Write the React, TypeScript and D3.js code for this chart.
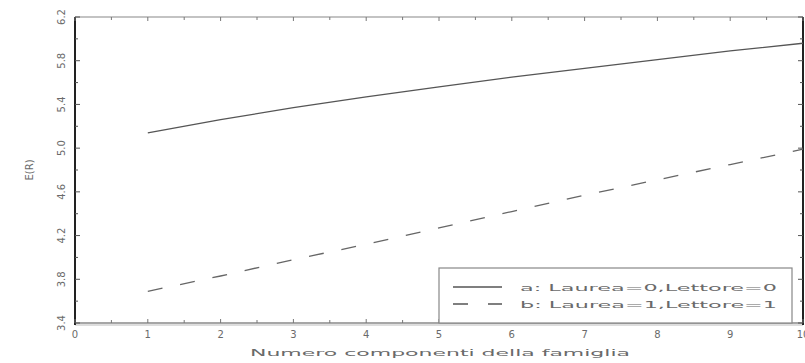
import React from "react";
import * as d3 from "d3";

const xValues = [1, 2, 3, 4, 5, 6, 7, 8, 9, 10];
const seriesA = [5.14, 5.26, 5.37, 5.47, 5.56, 5.65, 5.73, 5.81, 5.89, 5.96];
const seriesB = [3.69, 3.83, 3.98, 4.12, 4.27, 4.42, 4.57, 4.71, 4.85, 4.99];
const xTicks = [0, 1, 2, 3, 4, 5, 6, 7, 8, 9, 10];
const yTicks = [3.4, 3.8, 4.2, 4.6, 5.0, 5.4, 5.8, 6.2];
const legendLabels = ["a: Laurea=0,Lettore=0", "b: Laurea=1,Lettore=1"];

const width = 805;
const height = 363;
const margin = { left: 75, right: 2, top: 17, bottom: 40 };
const font = "'DejaVu Sans', sans-serif";
const textColor = "#6a6a6a";

export default function App() {
  const x = d3
    .scaleLinear()
    .domain([0, 10])
    .range([margin.left, width - margin.right]);
  const y = d3
    .scaleLinear()
    .domain([3.4, 6.2])
    .range([height - margin.bottom, margin.top]);

  const line = d3
    .line<number>()
    .x((_, i) => x(xValues[i]))
    .y((d) => y(d));

  const minorX = d3.range(0, 10.01, 0.5);
  const minorY = d3.range(3.4, 6.21, 0.2);
  const x0 = x(0);
  const x1 = x(10);
  const y0 = y(3.4);
  const y1 = y(6.2);

  const legX = x(5);
  const legY = 268;
  const legW = 353;

  return (
    <svg
      width={width}
      height={height}
      style={{ position: "absolute", left: 0, top: 0, background: "#fff" }}
      fontFamily={font}
    >
      {/* frame */}
      <line x1={x0} x2={x1} y1={y1} y2={y1} stroke="#888" strokeWidth={1.2} />
      <line x1={x0} x2={x1} y1={y0} y2={y0} stroke="#888" strokeWidth={1.5} />
      <line x1={x0} x2={x1} y1={y0 + 2} y2={y0 + 2} stroke="#bbb" strokeWidth={1} />
      <line x1={x0} x2={x0} y1={y1} y2={y0 + 2} stroke="#222" strokeWidth={2} />
      <line x1={x1} x2={x1} y1={y1} y2={y0 + 2} stroke="#222" strokeWidth={2} />

      {/* x ticks */}
      {minorX.map((t) => {
        const major = Math.abs(t - Math.round(t)) < 1e-6;
        const len = major ? 4 : 3;
        return (
          <g key={"xt" + t} stroke="#777" strokeWidth={1}>
            <line x1={x(t)} x2={x(t)} y1={y0} y2={y0 - len} />
            <line x1={x(t)} x2={x(t)} y1={y1} y2={y1 + len} />
          </g>
        );
      })}
      {/* y ticks */}
      {minorY.map((t, i) => {
        const len = i % 2 === 0 ? 5 : 3;
        return (
          <g key={"yt" + i} stroke="#555" strokeWidth={1}>
            <line x1={x0} x2={x0 + len} y1={y(t)} y2={y(t)} />
            <line x1={x1} x2={x1 - len} y1={y(t)} y2={y(t)} />
          </g>
        );
      })}

      {/* x tick labels */}
      {xTicks.map((t) => (
        <text
          key={"xl" + t}
          x={x(t)}
          y={y0 + 15}
          textAnchor="middle"
          fontSize={10}
          fill={textColor}
        >
          {t}
        </text>
      ))}
      {/* y tick labels */}
      {yTicks.map((t) => (
        <text
          key={"yl" + t}
          transform={`translate(${x0 - 10},${y(t)}) rotate(-90)`}
          textAnchor="middle"
          fontSize={10}
          fill={textColor}
        >
          {t.toFixed(1)}
        </text>
      ))}

      {/* axis titles */}
      <text
        x={250}
        y={356}
        fontSize={9}
        textLength={380}
        lengthAdjust="spacingAndGlyphs"
        fill={textColor}
      >
        Numero componenti della famiglia
      </text>
      <text
        transform={`translate(33,${(y0 + y1) / 2}) rotate(-90)`}
        textAnchor="middle"
        fontSize={10}
        fill={textColor}
      >
        E(R)
      </text>

      {/* series */}
      <path d={line(seriesA) ?? ""} fill="none" stroke="#555" strokeWidth={1.3} />
      <path
        d={line(seriesB) ?? ""}
        fill="none"
        stroke="#666"
        strokeWidth={1.3}
        strokeDasharray="15,18"
      />

      {/* legend */}
      <rect
        x={legX}
        y={legY}
        width={legW}
        height={y0 - legY}
        fill="#fff"
        stroke="#888"
        strokeWidth={1.2}
      />
      {legendLabels.map((lab, i) => {
        const ly = legY + 19 + i * 17;
        return (
          <g key={lab}>
            <line
              x1={legX + 14}
              x2={legX + 63}
              y1={ly}
              y2={ly}
              stroke="#555"
              strokeWidth={1.3}
              strokeDasharray={i === 0 ? undefined : "15,20"}
            />
            <text
              x={legX + 81}
              y={ly + 4}
              fontSize={9.5}
              textLength={257}
              lengthAdjust="spacingAndGlyphs"
              fill={textColor}
            >
              {lab}
            </text>
          </g>
        );
      })}
    </svg>
  );
}
